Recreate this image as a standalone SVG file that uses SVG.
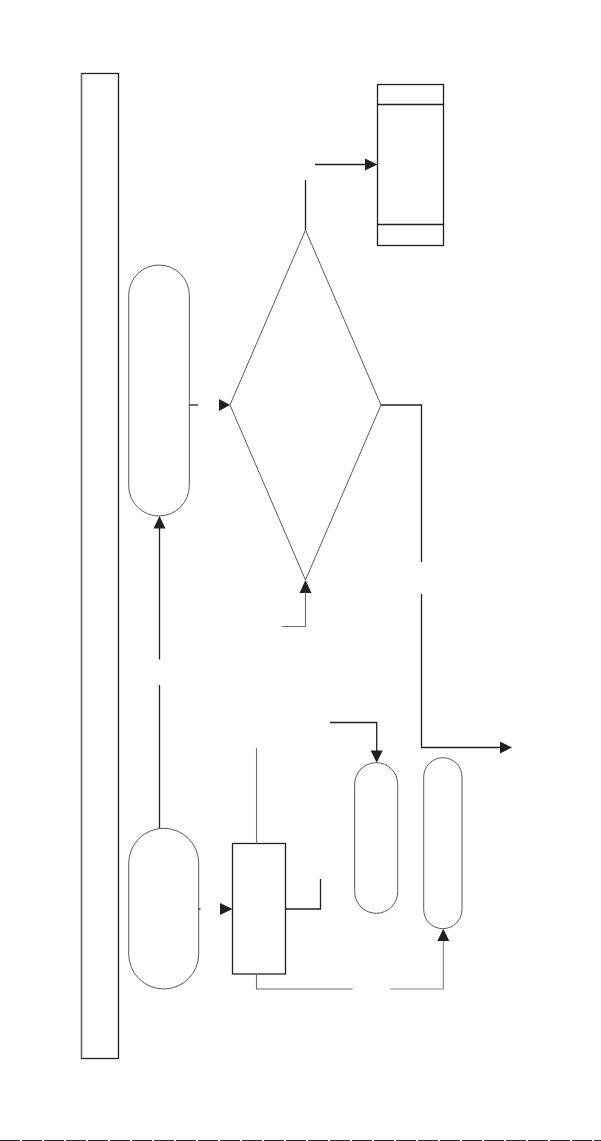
<svg xmlns="http://www.w3.org/2000/svg" width="601" height="1141" viewBox="0 0 601 1141">
<style>
.dk{fill:none;stroke:#231f20;stroke-width:1.3}
.gr{fill:none;stroke:#6d6d6d;stroke-width:1.1}
.lg{fill:none;stroke:#8a8a8a;stroke-width:1.2}
.pill{fill:#fff;stroke:#5a5a5a;stroke-width:1}
.ah{fill:#231f20;stroke:none}
</style>
<rect width="601" height="1141" fill="#fff"/>
<g id="lane">
<rect x="81.5" y="73.5" width="37" height="985" fill="#fff" stroke="#231f20" stroke-width="1.3"/>
<line x1="81.5" y1="73.5" x2="81.5" y2="1058.5" stroke="#6d6d6d" stroke-width="1.3"/>
</g>
<g id="store">
<rect x="377.5" y="84.5" width="66" height="161" class="dk" fill="#fff"/>
<line x1="377.5" y1="104.5" x2="443.5" y2="104.5" class="dk"/>
<line x1="377.5" y1="224.5" x2="443.5" y2="224.5" class="dk"/>
</g>
<g id="decision">
<polygon points="305.5,230 381,405 305.5,580 230,405" fill="#fff" stroke="#5a5a5a" stroke-width="1"/>
</g>
<g id="pill-top">
<rect x="128.7" y="265" width="60.6" height="251" rx="30.3" ry="30.3" class="pill"/>
</g>
<g id="pill-bottom">
<rect x="128.7" y="828.3" width="70" height="160.7" rx="35" ry="35" class="pill"/>
</g>
<g id="process">
<rect x="232.5" y="843.5" width="53" height="130.5" class="dk" fill="#fff"/>
</g>
<g id="pill-a">
<rect x="354.7" y="762.7" width="43" height="150.6" rx="21.5" ry="21.5" class="pill"/>
</g>
<g id="pill-b">
<rect x="423.7" y="757.7" width="38.3" height="171" rx="19.2" ry="19.2" class="pill"/>
</g>
<g id="connectors">
<line x1="315" y1="164.5" x2="366" y2="164.5" class="dk"/>
<polygon class="ah" points="377.5,164.5 365,158.5 365,170.5"/>
<line x1="305.5" y1="180" x2="305.5" y2="230" class="dk"/>
<line x1="189.3" y1="405" x2="198" y2="405" class="dk"/>
<polygon class="ah" points="230,405 219,399 219,411"/>
<polyline points="381,405 421.5,405 421.5,562" class="dk"/>
<polyline points="421.5,594 421.5,747.5 501,747.5" class="dk"/>
<polygon class="ah" points="512,747.5 500,741.5 500,753.5"/>
<polygon class="ah" points="305.5,580 299.5,593 311.5,593"/>
<polyline points="282,626.5 305.5,626.5 305.5,592" class="gr"/>
<line x1="159.5" y1="527" x2="159.5" y2="659.5" class="dk"/>
<polygon class="ah" points="159.5,516 153.5,528.5 165.5,528.5"/>
<line x1="159.5" y1="685" x2="159.5" y2="828.3" class="dk"/>
<line x1="198.7" y1="909" x2="200.5" y2="909" class="dk"/>
<polygon class="ah" points="232.5,909 220,903 220,915"/>
<line x1="256.5" y1="748" x2="256.5" y2="843.5" class="gr"/>
<polyline points="285.5,909 320.5,909 320.5,879" class="dk"/>
<polyline points="256.5,974 256.5,989 352.7,989" class="gr"/>
<polyline points="390,989 443.3,989 443.3,940" class="lg"/>
<polygon class="ah" points="443.3,928.7 437.3,941 449.3,941"/>
<polyline points="330,722.5 376.7,722.5 376.7,751" class="dk"/>
<polygon class="ah" points="376.7,762.7 370.7,750.5 382.7,750.5"/>
</g>
<line x1="0" y1="1140.5" x2="601" y2="1140.5" stroke="#231f20" stroke-width="1" stroke-dasharray="20,2"/>
</svg>
